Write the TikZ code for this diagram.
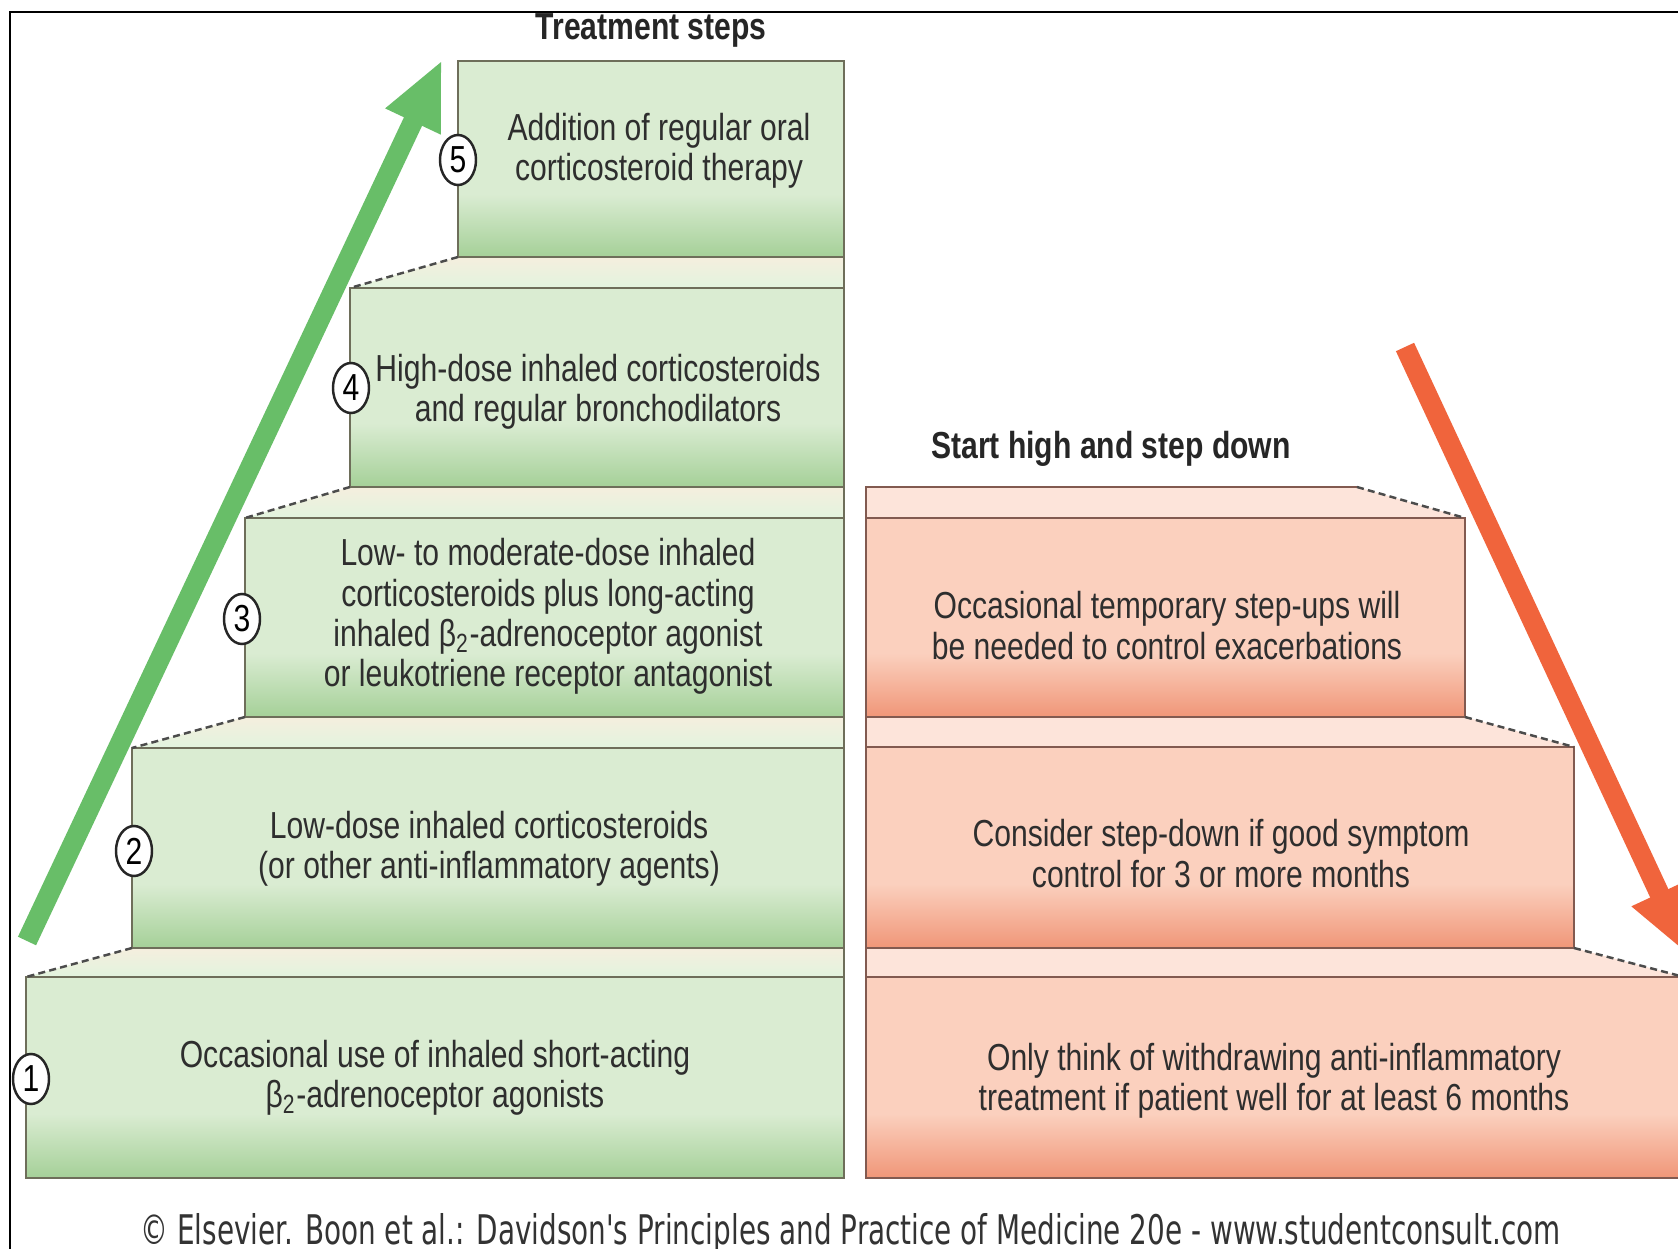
\documentclass[tikz,border=0pt]{standalone}
\usepackage{fontspec}
\setmainfont[FakeStretch=0.8]{Liberation Sans}
\newfontfamily\credfont{DejaVu Sans}
\usetikzlibrary{shapes.geometric,arrows.meta}
\definecolor{glight}{HTML}{DAECD2}
\definecolor{gdark}{HTML}{A5D098}
\definecolor{tbeige}{HTML}{F5EEDE}
\definecolor{tgreen}{HTML}{E2F4DE}
\definecolor{gline}{HTML}{6E6E5A}
\definecolor{slight}{HTML}{FBD0BE}
\definecolor{sdark}{HTML}{F09678}
\definecolor{streadc}{HTML}{FDE4DA}
\definecolor{sline}{HTML}{825A50}
\definecolor{garrowc}{HTML}{68BE68}
\definecolor{rarrowc}{HTML}{F0643C}
\definecolor{txt}{HTML}{2E2E2E}
\pgfdeclareverticalshading{gshade}{100bp}{color(0bp)=(gdark); color(25bp)=(gdark); color(41bp)=(glight); color(100bp)=(glight)}
\pgfdeclareverticalshading{sshade}{100bp}{color(0bp)=(sdark); color(25bp)=(sdark); color(41bp)=(slight); color(100bp)=(slight)}
\tikzset{
  txtnode/.style={font=\fontsize{10.7}{11.5}\selectfont, text=txt, align=center, inner sep=0pt},
  headnode/.style={font=\fontsize{10.7}{11.5}\selectfont\bfseries, text=black!85, inner sep=0pt},
  numnode/.style={ellipse, draw=black!85, line width=0.7pt, fill=white, minimum width=0.36cm, minimum height=0.5cm, inner sep=0pt, font=\fontsize{10.7}{11.5}\selectfont},
  gbox/.style={shading=gshade, draw=gline, line width=0.8pt},
  gtread/.style={top color=tbeige, bottom color=tgreen},
  sbox/.style={shading=sshade, draw=sline, line width=0.8pt},
  stread/.style={fill=streadc},
  gedge/.style={draw=gline, line width=0.8pt},
  sedge/.style={draw=sline, line width=0.8pt},
  diag/.style={draw=black!70, line width=0.7pt, dash pattern=on 2pt off 1.2pt},
  bigarrow/.style={line width=0.2cm, -{Triangle[length=0.68cm,width=0.56cm]}},
}
\begin{document}
\begin{tikzpicture}[x=0.01cm, y=-0.01cm]
\useasboundingbox (0,0) rectangle (1678,1249);
\clip (0,0) rectangle (1678,1249);
\fill[white] (0,0) rectangle (1678,1249);
% frame
\draw[line width=0.6pt] (10,1249) -- (10,12) -- (1678,12);

% ---------- green stairs ----------
\shade[gtread] (458,257) -- (350,288) -- (844,288) -- (844,257) -- cycle;
\shade[gtread] (350,487) -- (245,518) -- (844,518) -- (844,487) -- cycle;
\shade[gtread] (245,717) -- (132,748) -- (844,748) -- (844,717) -- cycle;
\shade[gtread] (132,948) -- (26,977) -- (844,977) -- (844,948) -- cycle;
\draw[gedge] (844,257) -- (844,288) (844,487) -- (844,518) (844,717) -- (844,748) (844,948) -- (844,977);
\shadedraw[gbox] (458,61) rectangle (844,257);
\shadedraw[gbox] (350,288) rectangle (844,487);
\shadedraw[gbox] (245,518) rectangle (844,717);
\shadedraw[gbox] (132,748) rectangle (844,948);
\shadedraw[gbox] (26,977) rectangle (844,1178);
\draw[diag] (458,257) -- (350,288);
\draw[diag] (350,487) -- (245,518);
\draw[diag] (245,717) -- (132,748);
\draw[diag] (132,948) -- (26,977);

% ---------- salmon stairs ----------
\fill[stread] (866,487) -- (1357,487) -- (1465,518) -- (866,518) -- cycle;
\fill[stread] (866,717) -- (1465,717) -- (1574,747) -- (866,747) -- cycle;
\fill[stread] (866,948) -- (1574,948) -- (1684,977) -- (866,977) -- cycle;
\draw[sedge] (866,518) -- (866,487) -- (1357,487);
\draw[sedge] (866,717) -- (866,747) (866,948) -- (866,977);
\shadedraw[sbox] (866,518) rectangle (1465,717);
\shadedraw[sbox] (866,747) rectangle (1574,948);
\shadedraw[sbox] (866,977) rectangle (1700,1178);
\draw[diag] (1357,487) -- (1465,518);
\draw[diag] (1465,717) -- (1574,747);
\draw[diag] (1574,948) -- (1684,977);

% ---------- texts ----------
\node[headnode] (h1) at (651,30) {Treatment steps};
\node[headnode] (h2) at (1111,448.5) {Start high and step down};

\node[txtnode] (t5) at (659,150.5) {Addition of regular oral\\corticosteroid therapy};
\node[txtnode] (t4) at (598,391.5) {High-dose inhaled corticosteroids\\and regular bronchodilators};
\node[txtnode] (t3) at (548,616.5) {Low- to moderate-dose inhaled\\corticosteroids plus long-acting\\inhaled β\textsubscript{2}-adrenoceptor agonist\\or leukotriene receptor antagonist};
\node[txtnode] (t2) at (489,849) {Low-dose inhaled corticosteroids\\(or other anti-inflammatory agents)};
\node[txtnode] (t1) at (435,1077.5) {Occasional use of inhaled short-acting\\β\textsubscript{2}-adrenoceptor agonists};

\node[txtnode] (s1) at (1167,625.5) {Occasional temporary step-ups will\\be needed to control exacerbations};
\node[txtnode] (s2) at (1221,853.5) {Consider step-down if good symptom\\control for 3 or more months};
\node[txtnode] (s3) at (1274,1080.5) {Only think of withdrawing anti-inflammatory\\treatment if patient well for at least 6 months};

% ---------- step numbers ----------
\node[numnode] (n1) at (31,1079) {1};
\node[numnode] (n2) at (134,851) {2};
\node[numnode] (n3) at (242,619) {3};
\node[numnode] (n4) at (351,388) {4};
\node[numnode] (n5) at (458,160) {5};

% ---------- arrows ----------
\coordinate (ga) at (27,941);
\coordinate (gb) at (442,60);
\coordinate (ra) at (1405,347);
\coordinate (rb) at (1688,955);
\draw[bigarrow, draw=garrowc, fill=garrowc] (ga) -- (gb);
\draw[bigarrow, draw=rarrowc, fill=rarrowc] (ra) -- (rb);

% ---------- credit ----------
\node[inner sep=0pt, anchor=base, text=black!80] (cred) at (850.5,1244) {\resizebox{14.19cm}{0.31cm}{\credfont © Elsevier. Boon et al.: Davidson's Principles and Practice of Medicine 20e - www.studentconsult.com}};
\end{tikzpicture}
\end{document}
